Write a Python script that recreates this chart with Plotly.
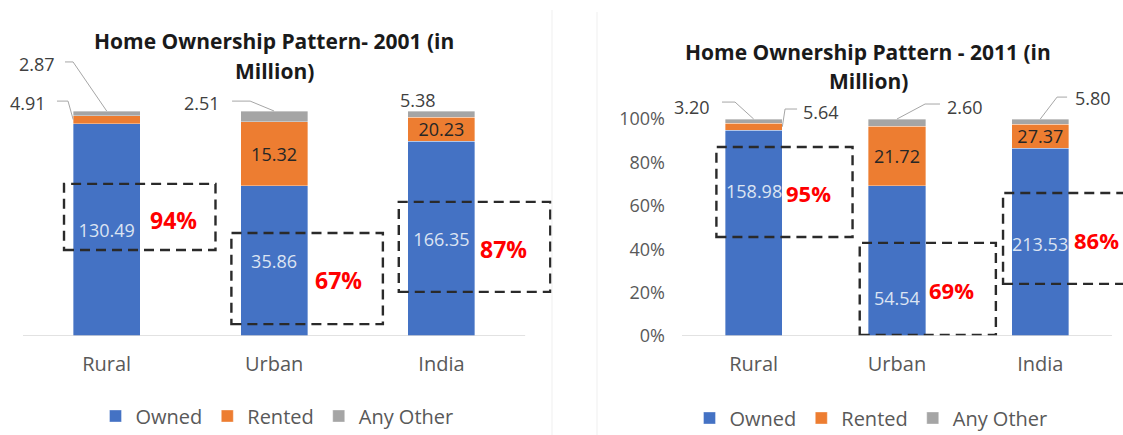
import plotly.graph_objects as go

# ---------------- data ----------------
categories = ["Rural", "Urban", "India"]
series_names = ["Owned", "Rented", "Any Other"]

owned_2001 = [130.49, 35.86, 166.35]
rented_2001 = [4.91, 15.32, 20.23]
other_2001 = [2.87, 2.51, 5.38]
owned_share_2001 = ["94%", "67%", "87%"]

owned_2011 = [158.98, 54.54, 213.53]
rented_2011 = [5.64, 21.72, 27.37]
other_2011 = [3.20, 2.60, 5.80]
owned_share_2011 = ["95%", "69%", "86%"]

y_ticks = [0, 0.2, 0.4, 0.6, 0.8, 1.0]

title_2001 = ["Home Ownership Pattern- 2001 (in", "Million)"]
title_2011 = ["Home Ownership Pattern - 2011 (in", "Million)"]

# ---------------- style ----------------
FONT = "Open Sans"
COLORS = ["#4472C4", "#ED7D31", "#A5A5A5"]
GREY = "#595959"
OWNED_TXT = "#DCE4F2"
W, H = 1123, 435

fig = go.Figure()
xpos = list(range(len(categories)))


def add_chart(owned, rented, other, xa, ya, legend, owned_inside, hide_rented_idx):
    vals = [owned, rented, other]
    for k, (name, v) in enumerate(zip(series_names, vals)):
        if k == 0:
            txt = [f"{x:.2f}" for x in v] if owned_inside else ["" for _ in v]
            tcol = OWNED_TXT
        elif k == 1:
            txt = ["" if i in hide_rented_idx else f"{x:.2f}" for i, x in enumerate(v)]
            tcol = "#262626"
        else:
            txt = ["" for _ in v]
            tcol = "#262626"
        fig.add_trace(go.Bar(
            x=xpos, y=v, name=name, width=0.4,
            marker=dict(color=COLORS[k], line=dict(color="rgba(255,255,255,0.6)", width=0.6)),
            text=txt, textposition="inside", insidetextanchor="middle",
            textangle=0, constraintext="none",
            textfont=dict(family=FONT, size=18, color=tcol),
            xaxis=xa, yaxis=ya, legend=legend, hoverinfo="skip",
        ))


add_chart(owned_2001, rented_2001, other_2001, "x", "y", "legend", True, {0})
add_chart(owned_2011, rented_2011, other_2011, "x2", "y2", "legend2", False, {0})


def fracs(owned, rented, other):
    out = []
    for o, r, a in zip(owned, rented, other):
        t = o + r + a
        out.append((o / t, r / t, a / t))
    return out


f01 = fracs(owned_2001, rented_2001, other_2001)
f11 = fracs(owned_2011, rented_2011, other_2011)

shapes = []
annotations = []

LEADER = dict(color="#A6A6A6", width=1)
BOX = dict(color="#2A2A2A", width=2.4, dash="10px,6px")


def leader(pts, xr, yr):
    path = "M " + " L ".join(f"{x},{y}" for x, y in pts)
    shapes.append(dict(type="path", path=path, xref=xr, yref=yr, line=LEADER))


def label(text, x, y, xr, yr, size=18, color="#404040", bold=False):
    annotations.append(dict(
        text=f"<b>{text}</b>" if bold else text, x=x, y=y, xref=xr, yref=yr,
        showarrow=False, xanchor="center", yanchor="middle",
        font=dict(family=FONT, size=size, color=color)))


# ---- 2001 chart decorations ----
box_2001 = [(0.676, 0.382), (0.458, 0.053), (0.596, 0.196)]
pct_pos_2001 = [(0.397, 0.516), (1.383, 0.249), (2.369, 0.387)]
for i in xpos:
    top, bot = box_2001[i]
    shapes.append(dict(type="rect", xref="x", yref="y", x0=i - 0.255, x1=i + 0.65,
                       y0=bot, y1=top, line=BOX))
    px, py = pct_pos_2001[i]
    label(owned_share_2001[i], px, py, "x", "y", size=23, color="#FF0000", bold=True)

shapes.append(dict(type="line", xref="x", yref="y", x0=-0.5, x1=2.5, y0=0, y1=0,
                   line=dict(color="#D9D9D9", width=1.5)))

mid_r0 = f01[0][0] + f01[0][1] / 2
label(f"{rented_2001[0]:.2f}", -0.47, 1.036, "x", "y")
leader([(-0.297, 1.044), (-0.231, 1.044), (-0.2, mid_r0)], "x", "y")
label(f"{other_2001[0]:.2f}", -0.416, 1.209, "x", "y")
leader([(-0.249, 1.218), (-0.201, 1.218), (0, 1.0)], "x", "y")
label(f"{other_2001[1]:.2f}", 0.570, 1.036, "x", "y")
leader([(0.749, 1.044), (0.857, 1.044), (1.0, 1.0)], "x", "y")
label(f"{other_2001[2]:.2f}", 1.861, 1.049, "x", "y")

# ---- 2011 chart decorations ----
box_2011 = [(0.871, 0.456), (0.429, 0.005), (0.659, 0.240)]
pct_pos_2011 = [(0.386, 0.659), (1.377, 0.212), (2.395, 0.442)]
owned_lbl_y_2011 = [0.668, 0.175, 0.424]
for i in xpos:
    top, bot = box_2011[i]
    shapes.append(dict(type="rect", xref="x2", yref="y2", x0=i - 0.26, x1=i + 0.69,
                       y0=bot, y1=top, line=BOX))
    px, py = pct_pos_2011[i]
    label(owned_share_2011[i], px, py, "x2", "y2", size=22, color="#FF0000", bold=True)
    label(f"{owned_2011[i]:.2f}", i, owned_lbl_y_2011[i], "x2", "y2", color=OWNED_TXT)

shapes.append(dict(type="line", xref="x2", yref="y2", x0=-0.5, x1=2.5, y0=0, y1=0,
                   line=dict(color="#D9D9D9", width=1.5)))

mid_r1 = f11[0][0] + f11[0][1] / 2
label(f"{other_2011[0]:.2f}", -0.430, 1.055, "x2", "y2")
leader([(-0.221, 1.078), (-0.130, 1.078), (0, 1.0)], "x2", "y2")
label(f"{rented_2011[0]:.2f}", 0.470, 1.032, "x2", "y2")
leader([(0.303, 1.046), (0.219, 1.046), (0.2, mid_r1)], "x2", "y2")
label(f"{other_2011[1]:.2f}", 1.475, 1.055, "x2", "y2")
leader([(1.300, 1.069), (1.196, 1.069), (1.0, 1.0)], "x2", "y2")
label(f"{other_2011[2]:.2f}", 2.368, 1.097, "x2", "y2")
leader([(2.187, 1.101), (2.117, 1.101), (2.0, 1.0)], "x2", "y2")

# ---- titles (one annotation per line) ----
for lines, cx, ys in ((title_2001, 274, (41, 71)), (title_2011, 868, (52, 81))):
    for txt, yy in zip(lines, ys):
        annotations.append(dict(text=f"<b>{txt}</b>", xref="paper", yref="paper",
                                x=cx / W, y=1 - yy / H, xanchor="center", yanchor="middle",
                                showarrow=False,
                                font=dict(family=FONT, size=21, color="#1A1A1A")))

# faint panel borders
shapes.append(dict(type="line", xref="paper", yref="paper", x0=552 / W, x1=552 / W,
                   y0=0, y1=1 - 10 / H, line=dict(color="#EFEFEF", width=1)))
shapes.append(dict(type="line", xref="paper", yref="paper", x0=597 / W, x1=597 / W,
                   y0=0, y1=1 - 12 / H, line=dict(color="#EFEFEF", width=1)))

axis_font = dict(family=FONT, size=20, color=GREY)
leg_common = dict(orientation="h", xanchor="center", yanchor="middle",
                  font=dict(family=FONT, size=20, color=GREY), bgcolor="rgba(0,0,0,0)",
                  itemwidth=30, traceorder="normal")

fig.update_layout(
    width=W, height=H,
    margin=dict(l=0, r=0, t=0, b=0, autoexpand=False),
    paper_bgcolor="white", plot_bgcolor="white",
    barmode="stack", barnorm="fraction", bargap=0.6,
    font=dict(family=FONT, color=GREY),
    xaxis=dict(domain=[23 / W, 567 / W], range=[-0.5, 2.75], tickvals=xpos,
               ticktext=categories, showgrid=False, zeroline=False, showline=False,
               tickfont=axis_font, ticks="", ticklabelstandoff=14, fixedrange=True),
    yaxis=dict(domain=[99 / H, 0.9], range=[0, 1.3], visible=False, fixedrange=True),
    xaxis2=dict(domain=[682 / W, 1.0], range=[-0.5, 2.577], tickvals=xpos,
                ticktext=categories, showgrid=False, zeroline=False, showline=False,
                tickfont=axis_font, ticks="", ticklabelstandoff=14, fixedrange=True),
    yaxis2=dict(domain=[99 / H, 1 - 53.9 / H], range=[0, 1.3], tickvals=y_ticks,
                tickformat=".0%", showgrid=False, zeroline=False, showline=False,
                tickfont=dict(family=FONT, size=18, color=GREY), ticks="",
                ticklabelstandoff=16, anchor="x2", fixedrange=True),
    legend=dict(x=277 / W, y=1 - 416 / H, **leg_common),
    legend2=dict(x=871 / W, y=1 - 418 / H, **leg_common),
    shapes=shapes,
    annotations=annotations,
)

fig.write_html("out.html", config={"displayModeBar": False},
               post_script="document.body.style.margin='0px';document.body.style.overflow='hidden';")
